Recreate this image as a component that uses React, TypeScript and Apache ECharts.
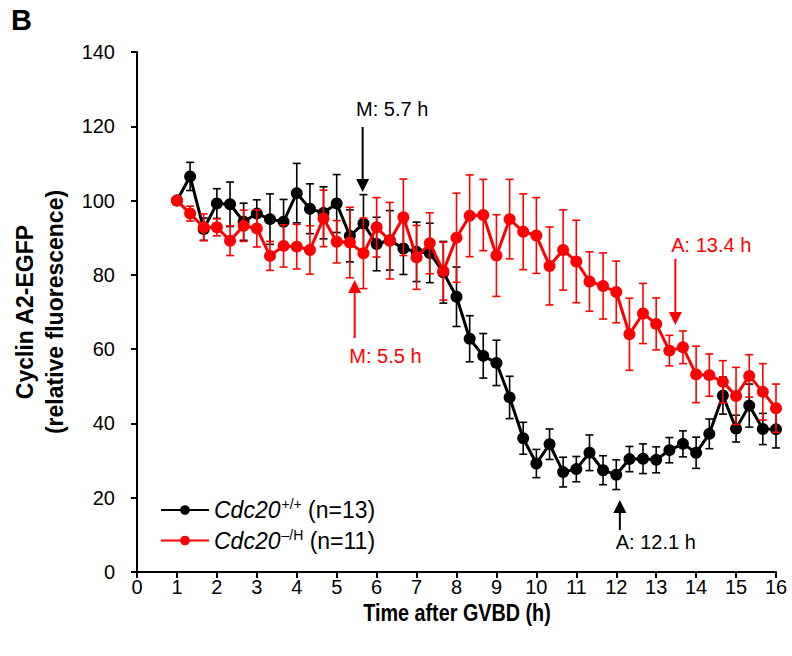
import React, { useEffect, useRef } from "react";
import * as echarts from "echarts";

const FONT = '"Liberation Sans", Arial, Helvetica, sans-serif';

const times = [1, 1.33, 1.67, 2, 2.33, 2.67, 3, 3.33, 3.67, 4, 4.33, 4.67, 5, 5.33, 5.67, 6, 6.33, 6.67, 7, 7.33, 7.67, 8, 8.33, 8.67, 9, 9.33, 9.67, 10, 10.33, 10.67, 11, 11.33, 11.67, 12, 12.33, 12.67, 13, 13.33, 13.67, 14, 14.33, 14.67, 15, 15.33, 15.67, 16];

const wtMean = [100, 106.5, 92.3, 99.2, 99.0, 94.3, 96.5, 95.0, 94.3, 102.0, 97.8, 96.7, 99.2, 90.5, 93.8, 88.3, 89.3, 87.1, 86.2, 85.9, 80.7, 74.1, 62.8, 58.2, 56.3, 47.0, 36.0, 29.2, 34.4, 26.9, 27.7, 32.1, 27.4, 26.2, 30.4, 30.5, 30.2, 32.8, 34.5, 32.1, 37.2, 47.5, 38.6, 44.8, 38.5, 38.4];
const wtErr = [0, 3.8, 3, 4, 6, 5, 3.7, 6.8, 6, 8, 6.7, 7, 7.8, 7, 7.8, 7.2, 8, 7, 8, 8, 8.3, 8, 6.2, 6, 6.1, 5.7, 4.3, 3.8, 4.1, 4, 3.4, 4.8, 3.9, 4, 3.4, 4, 3.5, 3.4, 3.5, 4.2, 4, 5, 3.6, 5.8, 4.2, 5];

const mutMean = [100, 96.5, 92.8, 92.8, 89.2, 93.2, 92.5, 85.1, 87.8, 87.6, 86.7, 95.2, 88.9, 88.7, 85.8, 92.8, 89.2, 95.5, 84.7, 88.5, 81.0, 90.0, 95.9, 96.1, 85.2, 95.0, 91.6, 90.6, 82.4, 86.7, 83.6, 78.2, 77.0, 75.4, 64.0, 69.6, 66.8, 59.6, 60.5, 53.2, 53.0, 51.2, 47.4, 52.8, 48.5, 44.1];
const mutErr = [0, 2, 3.6, 2.3, 4, 4.2, 5, 3.9, 5.7, 6, 6.5, 7.6, 5.7, 9.5, 9.5, 8, 10.3, 10.3, 8.6, 8.2, 7.8, 12, 11, 9.6, 11, 10.7, 10.2, 10.2, 10.5, 10.8, 11.1, 8, 8.9, 8.3, 9.7, 8.1, 7, 4.1, 4.4, 7.6, 5.7, 5.7, 7.7, 5.7, 7.6, 6.5];

const seriesNames = ["Cdc20+/+ (n=13)", "Cdc20\u2013/H (n=11)"];
const seriesColors = ["#000000", "#ff0000"];

// annotations (data units)
const annText = ["M: 5.7 h", "M: 5.5 h", "A: 12.1 h", "A: 13.4 h"];
const annT = [5.65, 5.45, 12.09, 13.48];
const annBase = [119.8, 63.0, 11.3, 84.3];
const annTip = [102.3, 78.6, 19.4, 66.5];
const annLabelT = [6.39, 6.22, 12.99, 14.38];
const annLabelV = [124.7, 58.2, 8.1, 88.0];
const annColor = ["#000000", "#ff0000", "#000000", "#ff0000"];

function errorBarSeries(mean: number[], err: number[], color: string, z: number) {
  return {
    type: "custom",
    z,
    silent: true,
    clip: false,
    data: times.map((t, i) => [t, mean[i], err[i]]),
    encode: { x: 0, y: 1 },
    renderItem: (params: any, api: any) => {
      const x = api.value(0);
      const y = api.value(1);
      const e = api.value(2);
      const top = api.coord([x, y + e]);
      const bot = api.coord([x, y - e]);
      const hw = 4;
      const st = { stroke: color, lineWidth: 1.6 };
      return {
        type: "group",
        children: [
          { type: "line", shape: { x1: top[0], y1: top[1], x2: bot[0], y2: bot[1] }, style: st },
          { type: "line", shape: { x1: top[0] - hw, y1: top[1], x2: top[0] + hw, y2: top[1] }, style: st },
          { type: "line", shape: { x1: bot[0] - hw, y1: bot[1], x2: bot[0] + hw, y2: bot[1] }, style: st },
        ],
      };
    },
  };
}

function lineSeries(name: string, mean: number[], color: string, z: number) {
  return {
    type: "line",
    name,
    z,
    data: times.map((t, i) => [t, mean[i]]),
    symbol: "circle",
    symbolSize: 12,
    showAllSymbol: true,
    lineStyle: { color, width: 3 },
    itemStyle: { color },
    emphasis: { disabled: true },
  };
}

export default function App() {
  const ref = useRef<HTMLDivElement>(null);
  useEffect(() => {
    if (!ref.current) return;
    const chart = echarts.init(ref.current, undefined, { renderer: "svg" });
    const option: any = {
      animation: false,
      backgroundColor: "#ffffff",
      textStyle: { fontFamily: FONT },
      grid: { left: 137, right: 16, top: 52, bottom: 84, containLabel: false },
      xAxis: {
        type: "value",
        min: 0,
        max: 16,
        interval: 1,
        axisLine: { show: true, lineStyle: { color: "#000", width: 2 } },
        axisTick: { show: true, length: 6, lineStyle: { color: "#000", width: 2 } },
        axisLabel: { color: "#000", fontSize: 20, fontFamily: FONT, margin: 5 },
        splitLine: { show: false },
      },
      yAxis: {
        type: "value",
        min: 0,
        max: 140,
        interval: 20,
        axisLine: { show: true, lineStyle: { color: "#000", width: 2 } },
        axisTick: { show: true, length: 6, lineStyle: { color: "#000", width: 2 } },
        axisLabel: { color: "#000", fontSize: 20, fontFamily: FONT, margin: 22 },
        splitLine: { show: false },
      },
      legend: {
        data: seriesNames,
        orient: "vertical",
        left: 155,
        top: 492,
        itemWidth: 48,
        itemHeight: 12,
        itemGap: 6,
        selectedMode: false,
        formatter: (name: string) =>
          name === seriesNames[0]
            ? "{i|Cdc20}{s|+/+}{n| (n=13)}"
            : "{i|Cdc20}{s|\u2013/H}{n| (n=11)}",
        textStyle: {
          color: "#000",
          fontFamily: FONT,
          fontSize: 23,
          rich: {
            i: { fontStyle: "italic", fontSize: 23, fontFamily: FONT, color: "#000", lineHeight: 26 },
            s: { fontSize: 14, fontFamily: FONT, color: "#000", verticalAlign: "top", lineHeight: 26, padding: [0, 0, 0, 1] },
            n: { fontSize: 23, fontFamily: FONT, color: "#000", lineHeight: 26 },
          },
        },
      },
      graphic: [
        {
          type: "text",
          x: 11,
          y: 5,
          style: { text: "B", fontSize: 29, fontWeight: "bold", fontFamily: FONT, fill: "#000" },
        },
        {
          type: "text",
          x: 40,
          y: 312,
          rotation: Math.PI / 2,
          style: {
            text: "Cyclin A2-EGFP\n(relative fluorescence)",
            font: `bold 23px ${FONT}`,
            fill: "#000",
            align: "center",
            verticalAlign: "middle",
            lineHeight: 30,
          },
        },
        {
          type: "text",
          x: 457,
          y: 613,
          scaleX: 0.86,
          style: {
            text: "Time after GVBD (h)",
            font: `bold 23px ${FONT}`,
            fill: "#000",
            align: "center",
            verticalAlign: "middle",
          },
        },
      ],
      series: [
        errorBarSeries(wtMean, wtErr, seriesColors[0], 3),
        lineSeries(seriesNames[0], wtMean, seriesColors[0], 4),
        errorBarSeries(mutMean, mutErr, seriesColors[1], 5),
        lineSeries(seriesNames[1], mutMean, seriesColors[1], 6),
        {
          type: "custom",
          z: 8,
          silent: true,
          clip: false,
          data: annT.map((t, i) => [t, annTip[i]]),
          encode: { x: 0, y: 1 },
          renderItem: (params: any, api: any) => {
            const i = params.dataIndex;
            const color = annColor[i];
            const tip = api.coord([annT[i], annTip[i]]);
            const base = api.coord([annT[i], annBase[i]]);
            const dir = tip[1] > base[1] ? 1 : -1;
            const hl = 13;
            const hw = 6.5;
            const lab = api.coord([annLabelT[i], annLabelV[i]]);
            return {
              type: "group",
              children: [
                {
                  type: "line",
                  shape: { x1: base[0], y1: base[1], x2: tip[0], y2: tip[1] - dir * hl },
                  style: { stroke: color, lineWidth: 2 },
                },
                {
                  type: "polygon",
                  shape: {
                    points: [
                      [tip[0], tip[1]],
                      [tip[0] - hw, tip[1] - dir * hl],
                      [tip[0] + hw, tip[1] - dir * hl],
                    ],
                  },
                  style: { fill: color },
                },
                {
                  type: "text",
                  x: lab[0],
                  y: lab[1],
                  style: {
                    text: annText[i],
                    fill: color,
                    font: `20px ${FONT}`,
                    align: "center",
                    verticalAlign: "middle",
                  },
                },
              ],
            };
          },
        },
      ],
    };
    chart.setOption(option);
    return () => chart.dispose();
  }, []);
  return (
    <div
      ref={ref}
      style={{ position: "fixed", left: 0, top: 0, width: 792, height: 656, background: "#fff" }}
    />
  );
}
